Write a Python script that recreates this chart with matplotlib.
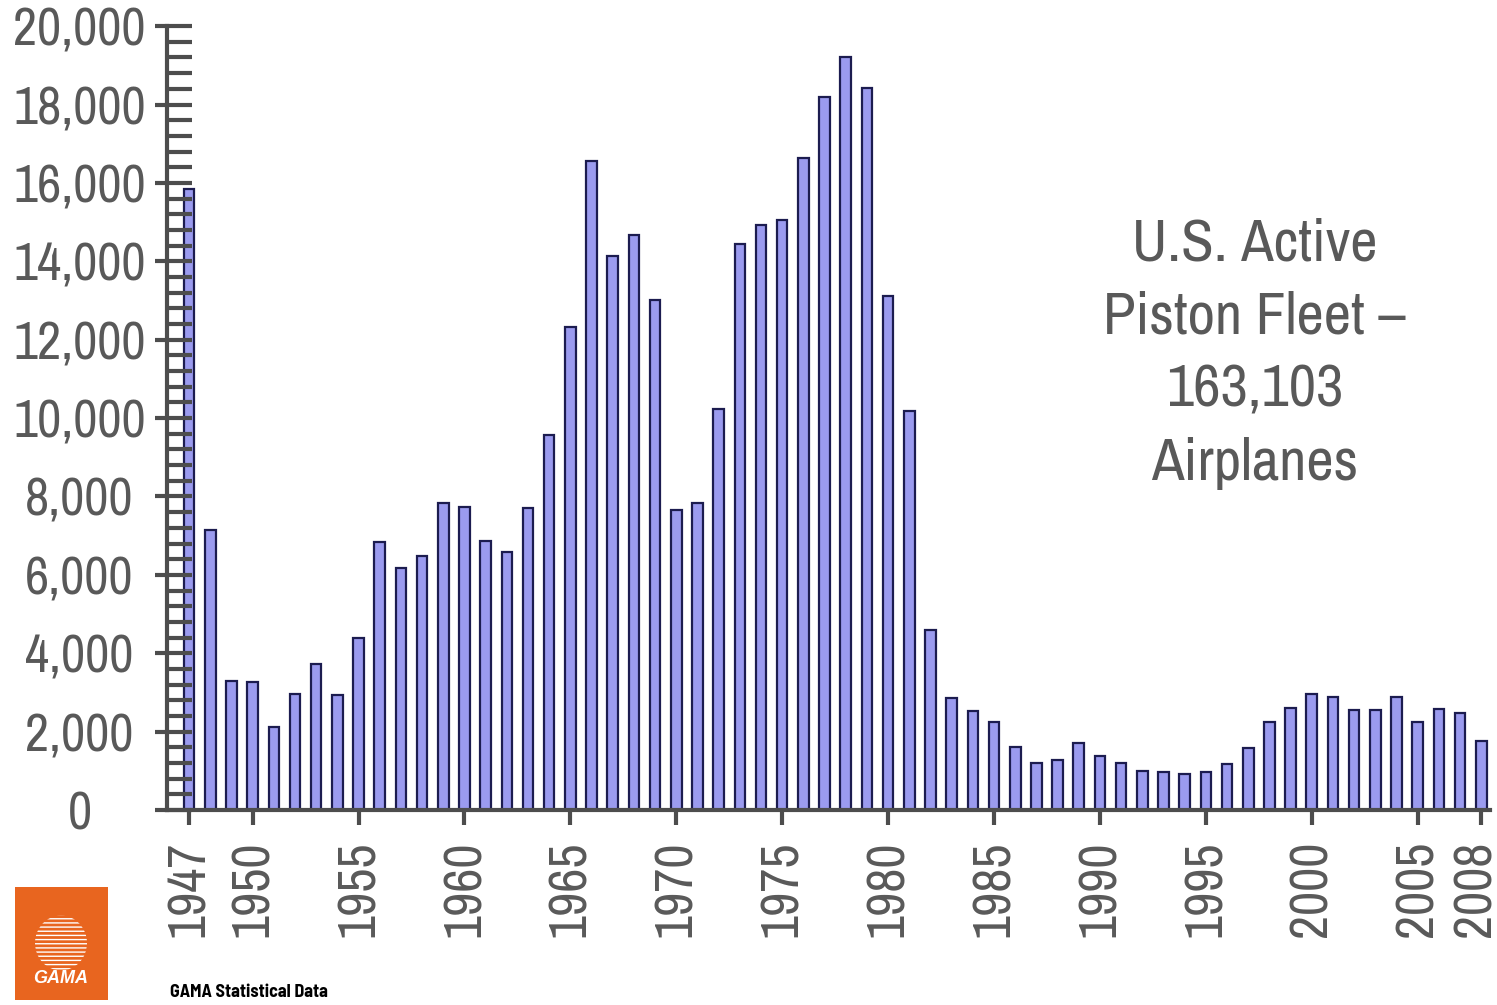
import numpy as np
import matplotlib.pyplot as plt
import matplotlib.patches as patches
from matplotlib.ticker import MultipleLocator, FuncFormatter
from matplotlib.transforms import ScaledTranslation

# --- dados ---
anos = np.arange(1947, 2009)
frota = [15850, 7150, 3290, 3270, 2120, 2960, 3720, 2940, 4390, 6840,
         6170, 6480, 7830, 7730, 6860, 6580, 7700, 9570, 12320, 16560,
         14130, 14670, 13010, 7650, 7830, 10230, 14440, 14920, 15050, 16630,
         18190, 19210, 18420, 13110, 10180, 4590, 2860, 2530, 2250, 1610,
         1200, 1280, 1710, 1380, 1200, 1000, 970, 920, 970, 1170,
         1580, 2250, 2600, 2960, 2880, 2550, 2550, 2880, 2250, 2580,
         2470, 1760]
anos_rotulo = [1947, 1950, 1955, 1960, 1965, 1970, 1975, 1980, 1985,
               1990, 1995, 2000, 2005, 2008]
texto_nota = "U.S. Active\nPiston Fleet \u2013\n163,103\nAirplanes"

cinza = '#595959'
fonte = ['Archivo Narrow', 'Liberation Sans', 'DejaVu Sans']

fig = plt.figure(figsize=(14.97, 10.05), dpi=100)
ax = fig.add_axes([0.1116, 0.194, 0.8838, 0.780])

ax.bar(anos, frota, width=0.5, color='#9b9bef', edgecolor='#1c1c50', linewidth=1.6, zorder=1)

ax.set_xlim(1945.96, 2008.42)
ax.set_ylim(0, 20000)

for s in ['top', 'right']:
    ax.spines[s].set_visible(False)
for s in ['left', 'bottom']:
    ax.spines[s].set_color('#4d4d4d')
    ax.spines[s].set_linewidth(3)

# eixo Y: maiores pra fora, menores pra dentro; rótulos centralizados
ax.yaxis.set_major_locator(MultipleLocator(2000))
ax.yaxis.set_minor_locator(MultipleLocator(400))
ax.yaxis.remove_overlapping_locs = False
ax.yaxis.set_major_formatter(FuncFormatter(lambda v, p: f'{int(v):,}'))
ax.tick_params(axis='y', which='major', direction='out', length=9, width=3,
               color='#4d4d4d', pad=54, labelsize=38, labelcolor=cinza)
ax.tick_params(axis='y', which='minor', direction='in', length=18, width=3,
               color='#4d4d4d')

ax.set_xticks(anos_rotulo)
ax.set_xticklabels([str(a) for a in anos_rotulo], rotation=90)
ax.tick_params(axis='x', which='major', direction='out', length=11, width=3,
               color='#4d4d4d', pad=11, labelsize=38, labelcolor=cinza)

for lbl in ax.get_xticklabels() + ax.get_yticklabels():
    lbl.set_family(fonte)
for lbl in ax.get_yticklabels():
    lbl.set_horizontalalignment('center')
# o último rótulo fica um pouco pra esquerda, como no original
ultimo = ax.get_xticklabels()[-1]
ultimo.set_transform(ultimo.get_transform() + ScaledTranslation(-6 / 100, 0, fig.dpi_scale_trans))

ax.text(0.822, 0.582, texto_nota, transform=ax.transAxes, ha='center', va='center',
        fontsize=43, color=cinza, family=fonte, linespacing=1.47)

# --- logo GAMA ---
logo = patches.Rectangle((15 / 1497, 5 / 1005), 93 / 1497, 113 / 1005,
                         transform=fig.transFigure, facecolor='#e8651f',
                         edgecolor='none')
fig.patches.append(logo)
circ = patches.Ellipse((61 / 1497, 62 / 1005), 52 / 1497, 55 / 1005,
                       transform=fig.transFigure, facecolor='none',
                       edgecolor='white', hatch='----', linewidth=0)
fig.patches.append(circ)
fig.text(61 / 1497, 27 / 1005, 'GAMA', ha='center', va='center', color='white',
         fontsize=13, fontweight='bold', style='italic', family='Liberation Sans')
fig.text(170 / 1497, 13 / 1005, 'GAMA Statistical Data', ha='left', va='center',
         color='black', fontsize=13, fontweight='bold',
         family=['Barlow Semi Condensed', 'Liberation Sans'])

fig.savefig('out.png', dpi=100)
